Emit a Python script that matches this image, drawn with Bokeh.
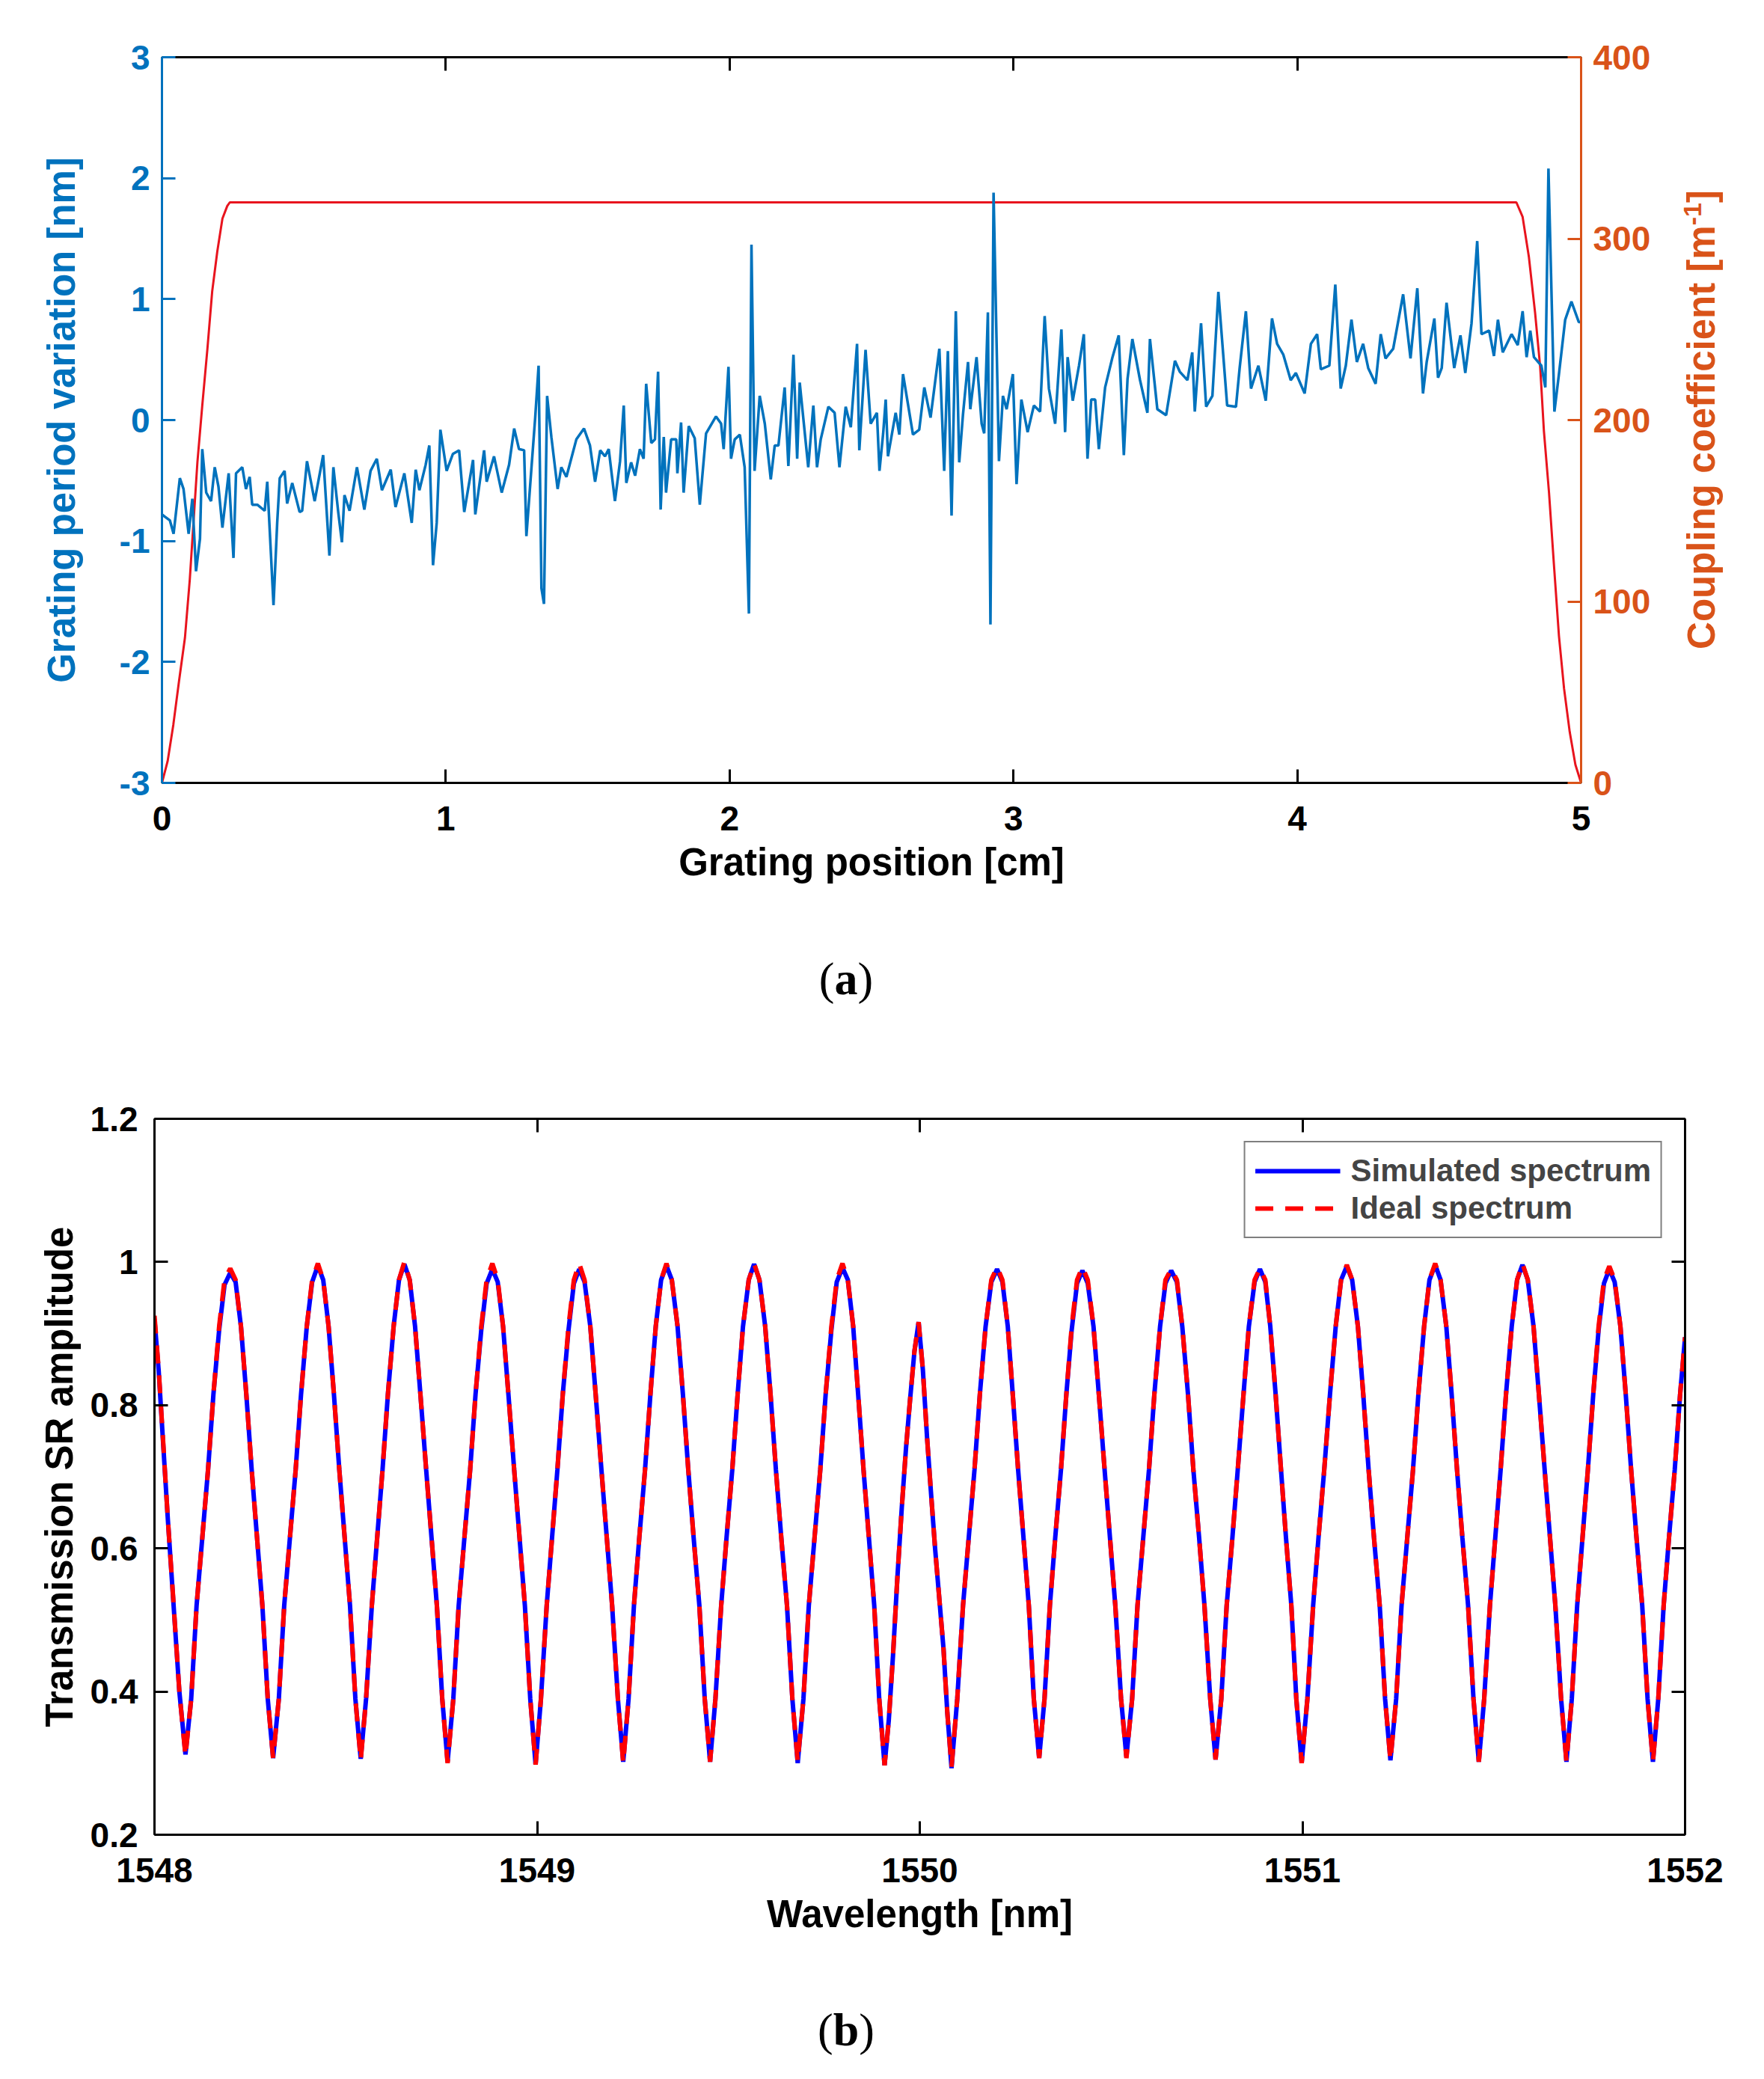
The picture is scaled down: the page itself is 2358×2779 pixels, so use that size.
from bokeh.plotting import figure
from bokeh.layouts import column, row
from bokeh.models import (LinearAxis, Range1d, FixedTicker, CustomJSTickFormatter,
                          Div, Legend, LegendItem, Spacer)
from bokeh.embed import file_html
from bokeh.resources import INLINE

FONT = "Liberation Sans"
M_BLUE = "#0072BD"
M_ORANGE = "#D95319"

# (a) grating period variation along the grating [cm -> nm]
position_cm = [
    0.000, 0.011, 0.028, 0.041, 0.063, 0.076, 0.094, 0.107, 0.120, 0.134,
    0.142, 0.156, 0.173, 0.186, 0.199, 0.213, 0.235, 0.252, 0.261, 0.283,
    0.296, 0.309, 0.318, 0.336, 0.362, 0.371, 0.384, 0.393, 0.406, 0.415,
    0.432, 0.441, 0.459, 0.485, 0.494, 0.511, 0.538, 0.568, 0.590, 0.604,
    0.621, 0.634, 0.643, 0.661, 0.687, 0.713, 0.735, 0.757, 0.775, 0.806,
    0.823, 0.854, 0.880, 0.894, 0.907, 0.929, 0.942, 0.955, 0.968, 0.981,
    1.003, 1.025, 1.047, 1.065, 1.096, 1.104, 1.135, 1.144, 1.170, 1.197,
    1.223, 1.241, 1.258, 1.276, 1.284, 1.302, 1.315, 1.327, 1.337, 1.346,
    1.357, 1.372, 1.394, 1.407, 1.425, 1.460, 1.487, 1.508, 1.526, 1.544,
    1.561, 1.574, 1.596, 1.614, 1.627, 1.636, 1.653, 1.667, 1.684, 1.697,
    1.706, 1.724, 1.737, 1.748, 1.757, 1.768, 1.776, 1.794, 1.812, 1.816,
    1.829, 1.838, 1.856, 1.877, 1.895, 1.917, 1.952, 1.970, 1.979, 1.996,
    2.005, 2.018, 2.036, 2.053, 2.068, 2.077, 2.088, 2.106, 2.124, 2.145,
    2.159, 2.172, 2.194, 2.207, 2.225, 2.238, 2.247, 2.277, 2.295, 2.308,
    2.321, 2.348, 2.370, 2.387, 2.409, 2.427, 2.449, 2.457, 2.479, 2.497,
    2.519, 2.528, 2.541, 2.550, 2.558, 2.585, 2.598, 2.611, 2.646, 2.668,
    2.686, 2.708, 2.739, 2.756, 2.769, 2.782, 2.797, 2.809, 2.822, 2.840,
    2.848, 2.870, 2.888, 2.897, 2.910, 2.919, 2.930, 2.949, 2.963, 2.976,
    2.998, 3.011, 3.028, 3.050, 3.072, 3.094, 3.110, 3.125, 3.147, 3.169,
    3.182, 3.191, 3.209, 3.231, 3.248, 3.261, 3.274, 3.288, 3.301, 3.323,
    3.349, 3.371, 3.389, 3.402, 3.419, 3.446, 3.472, 3.481, 3.507, 3.538,
    3.569, 3.586, 3.613, 3.630, 3.639, 3.661, 3.679, 3.701, 3.722, 3.753,
    3.784, 3.797, 3.819, 3.837, 3.863, 3.889, 3.911, 3.929, 3.951, 3.977,
    3.995, 4.026, 4.048, 4.070, 4.083, 4.113, 4.134, 4.153, 4.171, 4.191,
    4.210, 4.232, 4.250, 4.276, 4.294, 4.311, 4.338, 4.373, 4.399, 4.423,
    4.443, 4.456, 4.483, 4.496, 4.509, 4.526, 4.553, 4.575, 4.592, 4.614,
    4.634, 4.649, 4.676, 4.693, 4.707, 4.724, 4.755, 4.777, 4.794, 4.808,
    4.821, 4.834, 4.860, 4.874, 4.885, 4.906, 4.922, 4.944, 4.966, 4.992,
    5.000,
]
period_var_nm = [
    -0.78, -0.80, -0.83, -0.94, -0.48, -0.57, -0.94, -0.65, -1.25, -0.98,
    -0.24, -0.60, -0.67, -0.39, -0.55, -0.89, -0.44, -1.14, -0.44, -0.39,
    -0.57, -0.47, -0.70, -0.70, -0.75, -0.51, -1.11, -1.53, -0.85, -0.48,
    -0.42, -0.69, -0.52, -0.76, -0.75, -0.34, -0.67, -0.29, -1.12, -0.39,
    -0.76, -1.01, -0.62, -0.75, -0.39, -0.74, -0.42, -0.32, -0.58, -0.41,
    -0.72, -0.44, -0.85, -0.41, -0.58, -0.37, -0.21, -1.20, -0.85, -0.08,
    -0.42, -0.28, -0.25, -0.76, -0.33, -0.78, -0.25, -0.51, -0.30, -0.60,
    -0.37, -0.07, -0.24, -0.25, -0.96, -0.39, 0.02, 0.45, -1.39, -1.52,
    0.20, -0.14, -0.57, -0.39, -0.47, -0.16, -0.07, -0.21, -0.51, -0.25,
    -0.30, -0.24, -0.67, -0.34, 0.12, -0.52, -0.35, -0.46, -0.24, -0.32,
    0.30, -0.19, -0.16, 0.40, -0.74, -0.14, -0.60, -0.16, -0.16, -0.44,
    -0.02, -0.60, -0.05, -0.15, -0.70, -0.11, 0.03, -0.03, -0.24, 0.44,
    -0.32, -0.16, -0.12, -0.39, -1.60, 1.45, -0.42, 0.20, -0.03, -0.49,
    -0.21, -0.21, 0.27, -0.38, 0.54, -0.32, 0.31, -0.39, 0.12, -0.39,
    -0.16, 0.11, 0.06, -0.39, 0.11, -0.06, 0.63, -0.25, 0.58, -0.03,
    0.06, -0.42, -0.11, 0.17, -0.30, 0.06, -0.12, 0.38, -0.12, -0.08,
    0.27, 0.02, 0.59, -0.42, 0.57, -0.79, 0.90, -0.35, 0.04, 0.48,
    0.09, 0.52, -0.03, -0.11, 0.89, -1.69, 1.88, -0.34, 0.20, 0.09,
    0.38, -0.53, 0.17, -0.10, 0.12, 0.07, 0.86, 0.26, -0.03, 0.75,
    -0.10, 0.52, 0.16, 0.45, 0.71, -0.32, 0.17, 0.17, -0.24, 0.27,
    0.52, 0.70, -0.29, 0.34, 0.67, 0.33, 0.06, 0.67, 0.09, 0.04,
    0.49, 0.40, 0.33, 0.56, 0.07, 0.80, 0.11, 0.20, 1.06, 0.12,
    0.11, 0.43, 0.90, 0.26, 0.45, 0.16, 0.84, 0.63, 0.54, 0.33,
    0.39, 0.22, 0.63, 0.71, 0.42, 0.45, 1.12, 0.26, 0.45, 0.83,
    0.48, 0.63, 0.43, 0.30, 0.71, 0.51, 0.59, 1.04, 0.51, 1.09,
    0.22, 0.48, 0.84, 0.35, 0.43, 0.97, 0.43, 0.70, 0.39, 0.80,
    1.48, 0.71, 0.74, 0.53, 0.83, 0.56, 0.71, 0.62, 0.90, 0.52,
    0.74, 0.52, 0.45, 0.27, 2.08, 0.07, 0.38, 0.83, 0.98, 0.81,
    0.81,
]

# (a) apodized coupling coefficient [1/m]
kappa_pos_cm = [0.0, 0.02, 0.04, 0.06, 0.081, 0.098, 0.125, 0.142, 0.160, 0.177,
                0.195, 0.213, 0.230, 0.239, 4.772, 4.794, 4.816, 4.838, 4.856,
                4.869, 4.887, 4.904, 4.922, 4.94, 4.96, 4.98, 5.0]
kappa_per_m = [0, 12, 32, 56, 80, 112, 177, 208, 239, 271,
               293, 311, 318, 320, 320, 312, 290, 259, 229,
               194, 160, 121, 81, 52, 28, 10, 0]

# (b) transmission spectra, one row per half fringe (extremum first)
wavelength_nm = [
    1548.000, 1548.011, 1548.022, 1548.035, 1548.049, 1548.065,
    1548.081, 1548.096, 1548.110, 1548.125, 1548.140, 1548.154, 1548.169, 1548.183,
    1548.198, 1548.212, 1548.226, 1548.240, 1548.254, 1548.268, 1548.282, 1548.296,
    1548.310, 1548.325, 1548.339, 1548.354, 1548.369, 1548.383, 1548.398, 1548.412,
    1548.427, 1548.441, 1548.455, 1548.469, 1548.483, 1548.497, 1548.511, 1548.525,
    1548.539, 1548.553, 1548.568, 1548.582, 1548.596, 1548.610, 1548.625, 1548.639,
    1548.653, 1548.667, 1548.681, 1548.695, 1548.710, 1548.724, 1548.738, 1548.752,
    1548.766, 1548.781, 1548.795, 1548.810, 1548.825, 1548.839, 1548.854, 1548.868,
    1548.883, 1548.897, 1548.911, 1548.925, 1548.940, 1548.954, 1548.968, 1548.982,
    1548.996, 1549.010, 1549.025, 1549.039, 1549.053, 1549.067, 1549.082, 1549.096,
    1549.110, 1549.124, 1549.139, 1549.153, 1549.168, 1549.182, 1549.196, 1549.211,
    1549.225, 1549.239, 1549.253, 1549.267, 1549.282, 1549.296, 1549.310, 1549.324,
    1549.338, 1549.352, 1549.367, 1549.381, 1549.395, 1549.409, 1549.424, 1549.438,
    1549.452, 1549.466, 1549.481, 1549.495, 1549.510, 1549.524, 1549.538, 1549.553,
    1549.567, 1549.581, 1549.596, 1549.610, 1549.624, 1549.638, 1549.653, 1549.667,
    1549.681, 1549.696, 1549.710, 1549.725, 1549.740, 1549.754, 1549.769, 1549.783,
    1549.798, 1549.812, 1549.826, 1549.839, 1549.853, 1549.867, 1549.881, 1549.894,
    1549.908, 1549.919, 1549.930, 1549.941, 1549.953, 1549.964, 1549.975, 1549.986,
    1549.997, 1550.008, 1550.019, 1550.029, 1550.040, 1550.051, 1550.062, 1550.072,
    1550.083, 1550.098, 1550.113, 1550.128, 1550.143, 1550.157, 1550.172, 1550.187,
    1550.202, 1550.216, 1550.230, 1550.243, 1550.257, 1550.271, 1550.285, 1550.298,
    1550.312, 1550.326, 1550.340, 1550.354, 1550.369, 1550.383, 1550.397, 1550.411,
    1550.425, 1550.439, 1550.454, 1550.468, 1550.483, 1550.497, 1550.511, 1550.526,
    1550.540, 1550.555, 1550.569, 1550.584, 1550.599, 1550.613, 1550.628, 1550.642,
    1550.657, 1550.672, 1550.686, 1550.701, 1550.715, 1550.730, 1550.744, 1550.759,
    1550.773, 1550.788, 1550.802, 1550.817, 1550.831, 1550.846, 1550.860, 1550.875,
    1550.889, 1550.903, 1550.916, 1550.930, 1550.944, 1550.957, 1550.971, 1550.984,
    1550.998, 1551.013, 1551.028, 1551.042, 1551.057, 1551.072, 1551.087, 1551.101,
    1551.116, 1551.130, 1551.145, 1551.159, 1551.173, 1551.187, 1551.202, 1551.216,
    1551.230, 1551.245, 1551.259, 1551.274, 1551.289, 1551.303, 1551.318, 1551.332,
    1551.347, 1551.361, 1551.376, 1551.390, 1551.404, 1551.418, 1551.433, 1551.447,
    1551.461, 1551.475, 1551.490, 1551.504, 1551.518, 1551.532, 1551.547, 1551.561,
    1551.575, 1551.589, 1551.604, 1551.618, 1551.633, 1551.647, 1551.661, 1551.676,
    1551.690, 1551.704, 1551.718, 1551.732, 1551.746, 1551.760, 1551.774, 1551.788,
    1551.802, 1551.816, 1551.831, 1551.845, 1551.859, 1551.873, 1551.888, 1551.902,
    1551.916, 1551.930, 1551.944, 1551.958, 1551.973, 1551.987, 1552.000,
]
ideal_amp = [
    0.925, 0.850, 0.755, 0.640, 0.530, 0.400,
    0.310, 0.39, 0.52, 0.615, 0.71, 0.815, 0.91, 0.975,
    0.991, 0.975, 0.91, 0.815, 0.71, 0.615, 0.52, 0.39,
    0.307, 0.39, 0.52, 0.615, 0.71, 0.815, 0.91, 0.975,
    0.998, 0.975, 0.91, 0.815, 0.71, 0.615, 0.52, 0.39,
    0.304, 0.39, 0.52, 0.615, 0.71, 0.815, 0.91, 0.975,
    1.000, 0.975, 0.91, 0.815, 0.71, 0.615, 0.52, 0.39,
    0.300, 0.39, 0.52, 0.615, 0.71, 0.815, 0.91, 0.975,
    0.998, 0.975, 0.91, 0.815, 0.71, 0.615, 0.52, 0.39,
    0.298, 0.39, 0.52, 0.615, 0.71, 0.815, 0.91, 0.975,
    0.998, 0.975, 0.91, 0.815, 0.71, 0.615, 0.52, 0.39,
    0.300, 0.39, 0.52, 0.615, 0.71, 0.815, 0.91, 0.975,
    0.998, 0.975, 0.91, 0.815, 0.71, 0.615, 0.52, 0.39,
    0.302, 0.39, 0.52, 0.615, 0.71, 0.815, 0.91, 0.975,
    0.998, 0.975, 0.91, 0.815, 0.71, 0.615, 0.52, 0.39,
    0.302, 0.39, 0.52, 0.615, 0.71, 0.815, 0.91, 0.975,
    0.998, 0.975, 0.91, 0.815, 0.71, 0.615, 0.52, 0.39,
    0.297, 0.36, 0.45, 0.555, 0.657, 0.74, 0.81, 0.875,
    0.916, 0.85, 0.755, 0.68, 0.60, 0.53, 0.46, 0.37,
    0.295, 0.39, 0.52, 0.615, 0.71, 0.815, 0.91, 0.975,
    0.993, 0.975, 0.91, 0.815, 0.71, 0.615, 0.52, 0.39,
    0.307, 0.39, 0.52, 0.615, 0.71, 0.815, 0.91, 0.975,
    0.993, 0.975, 0.91, 0.815, 0.71, 0.615, 0.52, 0.39,
    0.307, 0.39, 0.52, 0.615, 0.71, 0.815, 0.91, 0.975,
    0.990, 0.975, 0.91, 0.815, 0.71, 0.615, 0.52, 0.39,
    0.305, 0.39, 0.52, 0.615, 0.71, 0.815, 0.91, 0.975,
    0.991, 0.975, 0.91, 0.815, 0.71, 0.615, 0.52, 0.39,
    0.300, 0.39, 0.52, 0.615, 0.71, 0.815, 0.91, 0.975,
    0.996, 0.975, 0.91, 0.815, 0.71, 0.615, 0.52, 0.39,
    0.304, 0.39, 0.52, 0.615, 0.71, 0.815, 0.91, 0.975,
    0.998, 0.975, 0.91, 0.815, 0.71, 0.615, 0.52, 0.39,
    0.302, 0.39, 0.52, 0.615, 0.71, 0.815, 0.91, 0.975,
    0.998, 0.975, 0.91, 0.815, 0.71, 0.615, 0.52, 0.39,
    0.302, 0.39, 0.52, 0.615, 0.71, 0.815, 0.91, 0.975,
    0.994, 0.975, 0.91, 0.815, 0.71, 0.615, 0.52, 0.39,
    0.302, 0.39, 0.52, 0.615, 0.71, 0.815, 0.895,
]
simulated_amp = [
    0.920, 0.848, 0.752, 0.640, 0.528, 0.400,
    0.312, 0.39, 0.52, 0.615, 0.71, 0.815, 0.905, 0.968,
    0.985, 0.972, 0.91, 0.815, 0.71, 0.615, 0.52, 0.39,
    0.307, 0.39, 0.52, 0.615, 0.71, 0.815, 0.91, 0.972,
    0.995, 0.975, 0.91, 0.815, 0.71, 0.615, 0.52, 0.39,
    0.306, 0.39, 0.52, 0.615, 0.71, 0.815, 0.91, 0.975,
    0.997, 0.975, 0.91, 0.815, 0.71, 0.615, 0.52, 0.39,
    0.302, 0.39, 0.52, 0.615, 0.71, 0.815, 0.905, 0.970,
    0.990, 0.972, 0.91, 0.815, 0.71, 0.615, 0.52, 0.39,
    0.298, 0.39, 0.52, 0.615, 0.71, 0.815, 0.905, 0.970,
    0.990, 0.972, 0.91, 0.815, 0.71, 0.615, 0.52, 0.39,
    0.302, 0.39, 0.52, 0.615, 0.71, 0.815, 0.91, 0.975,
    0.995, 0.975, 0.91, 0.815, 0.71, 0.615, 0.52, 0.39,
    0.302, 0.39, 0.52, 0.615, 0.71, 0.815, 0.91, 0.975,
    0.997, 0.975, 0.91, 0.815, 0.71, 0.615, 0.52, 0.39,
    0.300, 0.39, 0.52, 0.615, 0.71, 0.815, 0.905, 0.972,
    0.992, 0.975, 0.91, 0.815, 0.71, 0.615, 0.52, 0.39,
    0.297, 0.36, 0.45, 0.555, 0.657, 0.74, 0.81, 0.875,
    0.916, 0.85, 0.755, 0.68, 0.60, 0.53, 0.46, 0.37,
    0.293, 0.39, 0.52, 0.615, 0.71, 0.815, 0.91, 0.972,
    0.990, 0.972, 0.91, 0.815, 0.71, 0.615, 0.52, 0.39,
    0.307, 0.39, 0.52, 0.615, 0.71, 0.815, 0.905, 0.970,
    0.988, 0.970, 0.91, 0.815, 0.71, 0.615, 0.52, 0.39,
    0.309, 0.39, 0.52, 0.615, 0.71, 0.815, 0.91, 0.970,
    0.988, 0.972, 0.91, 0.815, 0.71, 0.615, 0.52, 0.39,
    0.305, 0.39, 0.52, 0.615, 0.71, 0.815, 0.91, 0.972,
    0.990, 0.972, 0.91, 0.815, 0.71, 0.615, 0.52, 0.39,
    0.300, 0.39, 0.52, 0.615, 0.71, 0.815, 0.91, 0.975,
    0.994, 0.975, 0.91, 0.815, 0.71, 0.615, 0.52, 0.39,
    0.304, 0.39, 0.52, 0.615, 0.71, 0.815, 0.91, 0.975,
    0.996, 0.975, 0.91, 0.815, 0.71, 0.615, 0.52, 0.39,
    0.302, 0.39, 0.52, 0.615, 0.71, 0.815, 0.91, 0.975,
    0.996, 0.975, 0.91, 0.815, 0.71, 0.615, 0.52, 0.39,
    0.302, 0.39, 0.52, 0.615, 0.71, 0.815, 0.905, 0.970,
    0.990, 0.972, 0.91, 0.815, 0.71, 0.615, 0.52, 0.39,
    0.302, 0.39, 0.52, 0.615, 0.71, 0.815, 0.895,
]

x_ticks_a = [0, 1, 2, 3, 4, 5]
y_ticks_a = [-3, -2, -1, 0, 1, 2, 3]
kappa_ticks = [0, 100, 200, 300, 400]
x_ticks_b = [1548, 1549, 1550, 1551, 1552]
y_ticks_b = [0.2, 0.4, 0.6, 0.8, 1, 1.2]

plain = CustomJSTickFormatter(code="return String(Math.round(tick * 10) / 10);")
blank = CustomJSTickFormatter(code="return '';")


def style_axis(ax, color, ticks, labels=True, label_standoff=10, tick_standoff=16):
    ax.ticker = FixedTicker(ticks=ticks)
    ax.formatter = plain if labels else blank
    ax.axis_line_color = color
    ax.axis_line_width = 3
    ax.major_tick_line_color = color
    ax.major_tick_line_width = 3
    ax.major_tick_in = 18
    ax.major_tick_out = 0
    ax.minor_tick_line_color = None
    ax.major_label_text_color = color
    ax.major_label_text_font = FONT
    ax.major_label_text_font_style = "bold"
    ax.major_label_text_font_size = "46px"
    ax.major_label_standoff = tick_standoff
    ax.axis_label_text_color = color
    ax.axis_label_text_font = FONT
    ax.axis_label_text_font_style = "bold"
    ax.axis_label_text_font_size = "51px"
    ax.axis_label_standoff = label_standoff


# ---- panel (a)
pa = figure(frame_width=1897, frame_height=970, x_range=Range1d(0, 5), y_range=Range1d(-3, 3),
            min_border_left=206, min_border_right=110, min_border_top=76, min_border_bottom=184,
            output_backend="svg", toolbar_location=None, tools="")
pa.extra_y_ranges = {"kappa": Range1d(0, 400)}
pa.grid.visible = False
pa.outline_line_color = None

pa.line(kappa_pos_cm, kappa_per_m, y_range_name="kappa", line_color="#E8141E", line_width=3)
pa.line(position_cm, period_var_nm, line_color=M_BLUE, line_width=3.5)

style_axis(pa.below[0], "black", x_ticks_a, label_standoff=11, tick_standoff=31)
pa.below[0].axis_label = "Grating position [cm]"
style_axis(pa.left[0], M_BLUE, y_ticks_a, label_standoff=46)
pa.left[0].axis_label = "Grating period variation [nm]"

right_a = LinearAxis(y_range_name="kappa")
style_axis(right_a, M_ORANGE, kappa_ticks)
pa.add_layout(right_a, "right")
top_a = LinearAxis()
style_axis(top_a, "black", x_ticks_a, labels=False)
pa.add_layout(top_a, "above")

# right-hand axis title, reading bottom to top like the left one
kappa_title = Div(
    text=('<div style="position:relative;width:104px;height:1230px;">'
          '<div style="position:absolute;left:52px;top:561px;white-space:nowrap;'
          'transform:translate(-50%,-50%) rotate(-90deg);'
          'font-family:\'Liberation Sans\';font-weight:bold;font-size:51px;color:' + M_ORANGE + ';">'
          'Coupling coefficient [m<sup style="font-size:34px;">-1</sup>]</div></div>'),
    width=104, height=1230, margin=0)

# ---- panel (b)
pb = figure(frame_width=2046, frame_height=957, x_range=Range1d(1548, 1552), y_range=Range1d(0.2, 1.2),
            min_border_left=206, min_border_right=100, min_border_top=105, min_border_bottom=188,
            output_backend="svg", toolbar_location=None, tools="")
pb.grid.visible = False
pb.outline_line_color = None

sim = pb.line(wavelength_nm, simulated_amp, line_color="#0000FF", line_width=6)
ide = pb.line(wavelength_nm, ideal_amp, line_color="#FF0000", line_width=6, line_dash="24 16")

style_axis(pb.below[0], "black", x_ticks_b, label_standoff=11, tick_standoff=31)
pb.below[0].axis_label = "Wavelength [nm]"
style_axis(pb.left[0], "black", y_ticks_b, label_standoff=10, tick_standoff=22)
pb.left[0].axis_label = "Transmission SR amplitude"
top_b = LinearAxis()
style_axis(top_b, "black", x_ticks_b, labels=False)
pb.add_layout(top_b, "above")
right_b = LinearAxis()
style_axis(right_b, "black", y_ticks_b, labels=False)
pb.add_layout(right_b, "right")

legend = Legend(items=[LegendItem(label="Simulated spectrum", renderers=[sim]),
                       LegendItem(label="Ideal spectrum", renderers=[ide])],
                location="top_right", margin=30, padding=13, spacing=0,
                glyph_width=114, glyph_height=50, label_height=50, label_standoff=14,
                label_text_font=FONT, label_text_font_style="bold", label_text_font_size="42px",
                border_line_color="black", border_line_width=2)
pb.add_layout(legend)


def caption(letter, pad):
    return ('<div style="width:2262px;text-align:center;padding-top:%dpx;line-height:62px;'
            'font-family:\'Liberation Serif\';font-size:62px;color:black;">(<b>%s</b>)</div>'
            % (pad, letter))


div_a = Div(text=caption("a", 47), width=2262, height=160, margin=0)
div_b = Div(text=caption("b", 42), width=2262, height=130, margin=0)

top_row = row(Spacer(width=10, height=10), pa, kappa_title, spacing=0)
page = column(top_row, div_a, pb, div_b, spacing=0)
open("out.html", "w").write(file_html(page, INLINE))
